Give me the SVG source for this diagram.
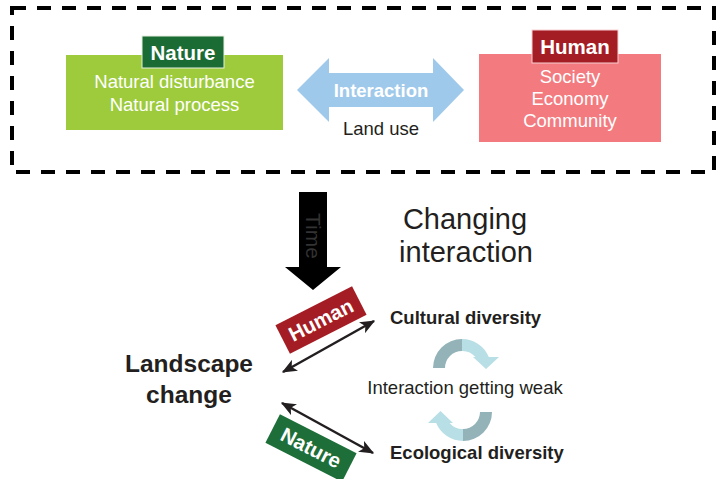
<svg xmlns="http://www.w3.org/2000/svg" width="722" height="479" viewBox="0 0 722 479">
<defs>
<style>
text{font-family:"Liberation Sans",Arial,sans-serif}
.w{fill:#fff;font-size:18.5px;text-anchor:middle}
.lb{fill:#fff;font-weight:bold;font-size:20.5px;text-anchor:middle}
.k{fill:#231f20;font-size:18.5px;text-anchor:middle}
.big{font-size:29px}
.kb{fill:#231f20;font-size:18.5px;font-weight:bold}
.dark{fill:#93b3b8}
.light{fill:#b8dfe5}
.con{stroke:#231f20;stroke-width:2.5;fill:none}
</style>
<marker id="ah" viewBox="0 0 12 10" refX="11" refY="5" markerWidth="6" markerHeight="5" orient="auto-start-reverse" markerUnits="strokeWidth">
<path d="M0,0 L12,5 L0,10 L3,5 Z" fill="#231f20"/>
</marker>
</defs>
<rect width="722" height="479" fill="#fff"/>
<rect x="12" y="8" width="702" height="164" fill="none" stroke="#000" stroke-width="4" stroke-dasharray="14 11"/>

<g id="nature">
<rect x="66" y="55" width="217" height="75" fill="#9dcb3c"/>
<rect x="142" y="36" width="82" height="32" fill="#1b6b35" stroke="#e8f0e0" stroke-width="1"/>
<text class="lb" x="183" y="60">Nature</text>
<text class="w" x="174.5" y="88">Natural disturbance</text>
<text class="w" x="174.5" y="111">Natural process</text>
</g>

<g id="human">
<rect x="479" y="54" width="182" height="88" fill="#f37b80"/>
<rect x="532" y="30" width="86" height="33" fill="#a51d24" stroke="#f8d0d2" stroke-width="1"/>
<text class="lb" x="575" y="54">Human</text>
<text class="w" x="570" y="83">Society</text>
<text class="w" x="570" y="105">Economy</text>
<text class="w" x="570" y="127">Community</text>
</g>

<g id="interaction">
<polygon points="297,90 329,58 329,73 433,73 433,58 464,90 433,122 433,107 329,107 329,122" fill="#9fc9ea"/>
<text x="381" y="97" fill="#fff" font-size="18.5" font-weight="bold" text-anchor="middle">Interaction</text>
<text class="k" x="381" y="135">Land use</text>
</g>

<g id="time">
<polygon points="299,192 327,192 327,267 341,267 313,290 285,267 299,267" fill="#000"/>
<text transform="translate(313,236) rotate(90)" x="0" y="7.5" fill="#333" font-size="21" text-anchor="middle">Time</text>
</g>

<g id="changing">
<text class="k big" x="465" y="229">Changing</text>
<text class="k big" x="466" y="262">interaction</text>
</g>

<g id="landscape">
<text x="189" y="372" fill="#231f20" font-size="24.5" font-weight="bold" text-anchor="middle">Landscape</text>
<text x="189" y="403" fill="#231f20" font-size="24.5" font-weight="bold" text-anchor="middle">change</text>
</g>

<g id="human-tag">
<g transform="translate(321,320) rotate(-27)">
<rect x="-43" y="-16" width="86" height="32" fill="#a51d24"/>
<text class="lb" x="0" y="7">Human</text>
</g>
</g>

<g id="nature-tag">
<g transform="translate(311,448) rotate(27)">
<rect x="-43" y="-16" width="86" height="32" fill="#1d6e38"/>
<text class="lb" x="0" y="7">Nature</text>
</g>
</g>

<g id="cultural">
<text class="kb" x="390" y="324">Cultural diversity</text>
</g>
<g id="weak">
<text class="k" x="465" y="394">Interaction getting weak</text>
</g>
<g id="ecological">
<text class="kb" x="390" y="459">Ecological diversity</text>
</g>

<g id="cycle">
<path class="dark" d="M433,368 A29,29 0 0 1 462,339 L462,351 A17,17 0 0 0 445,368 Z"/>
<path class="light" d="M462,339 A29,29 0 0 1 488.8,357 L499,357 L486,369 L473,357 L475.4,357 A17,17 0 0 0 462,351 Z"/>
<path class="dark" d="M492,412 A29,29 0 0 1 463,441 L463,429 A17,17 0 0 0 480,412 Z"/>
<path class="light" d="M463,441 A29,29 0 0 1 436.2,423 L428,423 L440.5,411 L453,423 L449.6,423 A17,17 0 0 0 463,429 Z"/>
</g>

<g id="connectors">
<line class="con" x1="283" y1="372" x2="374" y2="321" marker-start="url(#ah)" marker-end="url(#ah)"/>
<line class="con" x1="282" y1="403" x2="373" y2="453" marker-start="url(#ah)" marker-end="url(#ah)"/>
</g>
</svg>
